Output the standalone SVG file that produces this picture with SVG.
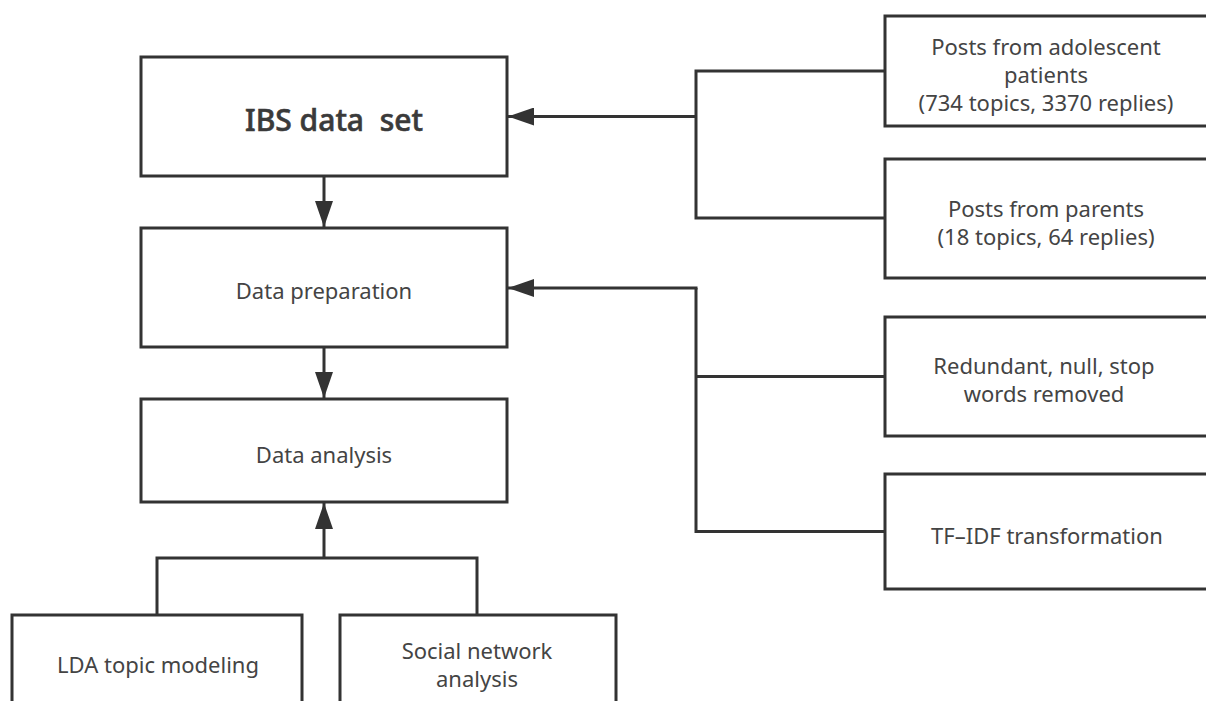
<svg xmlns="http://www.w3.org/2000/svg" width="1206" height="701" viewBox="0 0 1206 701">
<style>
  .box { fill: #ffffff; stroke: #333333; stroke-width: 3; }
  .lbl { font-family: "Noto Sans", "Liberation Sans", sans-serif; font-size: 22px; fill: #444444; text-anchor: middle; dominant-baseline: central; }
  .title { font-family: "Noto Sans", "Liberation Sans", sans-serif; font-size: 30px; font-weight: 500; fill: #3a3a3a; text-anchor: middle; dominant-baseline: central; stroke: #3a3a3a; stroke-width: 0.6; }
  .conn { fill: none; stroke: #333333; stroke-width: 3; }
</style>
<defs>
  <marker id="arr" markerUnits="userSpaceOnUse" markerWidth="27" markerHeight="18" refX="26" refY="9" orient="auto">
    <path d="M0,0 L26,9 L0,18 z" fill="#333333"/>
  </marker>
</defs>
<rect width="1206" height="701" fill="#ffffff"/>

<g id="ibs">
  <rect class="box" x="141" y="57" width="366" height="119"/>
  <text class="title" x="334" y="119" xml:space="preserve">IBS data  set</text>
</g>
<g id="prep">
  <rect class="box" x="141" y="228" width="366" height="119"/>
  <text class="lbl" x="324" y="290">Data preparation</text>
</g>
<g id="analysis">
  <rect class="box" x="141" y="399" width="366" height="103"/>
  <text class="lbl" x="324" y="454">Data analysis</text>
</g>
<g id="lda">
  <rect class="box" x="12" y="615" width="290" height="120"/>
  <text class="lbl" x="158" y="664">LDA topic modeling</text>
</g>
<g id="sna">
  <rect class="box" x="340" y="615" width="276" height="120"/>
  <text class="lbl" x="477" y="650">Social network</text>
  <text class="lbl" x="477" y="678">analysis</text>
</g>
<g id="adolescent">
  <rect class="box" x="885" y="16" width="330" height="110"/>
  <text class="lbl" x="1046" y="46">Posts from adolescent</text>
  <text class="lbl" x="1046" y="74">patients</text>
  <text class="lbl" x="1046" y="102">(734 topics, 3370 replies)</text>
</g>
<g id="parents">
  <rect class="box" x="885" y="159" width="330" height="119"/>
  <text class="lbl" x="1046" y="208">Posts from parents</text>
  <text class="lbl" x="1046" y="236">(18 topics, 64 replies)</text>
</g>
<g id="redundant">
  <rect class="box" x="885" y="317" width="330" height="119"/>
  <text class="lbl" x="1044" y="365">Redundant, null, stop</text>
  <text class="lbl" x="1044" y="393">words removed</text>
</g>
<g id="tfidf">
  <rect class="box" x="885" y="474" width="330" height="115"/>
  <text class="lbl" x="1047" y="535">TF–IDF transformation</text>
</g>

<g id="connectors">
  <line class="conn" x1="324" y1="176" x2="324" y2="227" marker-end="url(#arr)"/>
  <line class="conn" x1="324" y1="347" x2="324" y2="398" marker-end="url(#arr)"/>
  <path class="conn" d="M157,615 V558 H477 V615"/>
  <line class="conn" x1="324" y1="558" x2="324" y2="503" marker-end="url(#arr)"/>
  <path class="conn" d="M885,71 H696 V218 H885"/>
  <line class="conn" x1="696" y1="116.5" x2="508" y2="116.5" marker-end="url(#arr)"/>
  <path class="conn" d="M885,531.5 H696 V288"/>
  <line class="conn" x1="696" y1="376.5" x2="885" y2="376.5"/>
  <line class="conn" x1="697.5" y1="288" x2="508" y2="288" marker-end="url(#arr)"/>
</g>
</svg>
